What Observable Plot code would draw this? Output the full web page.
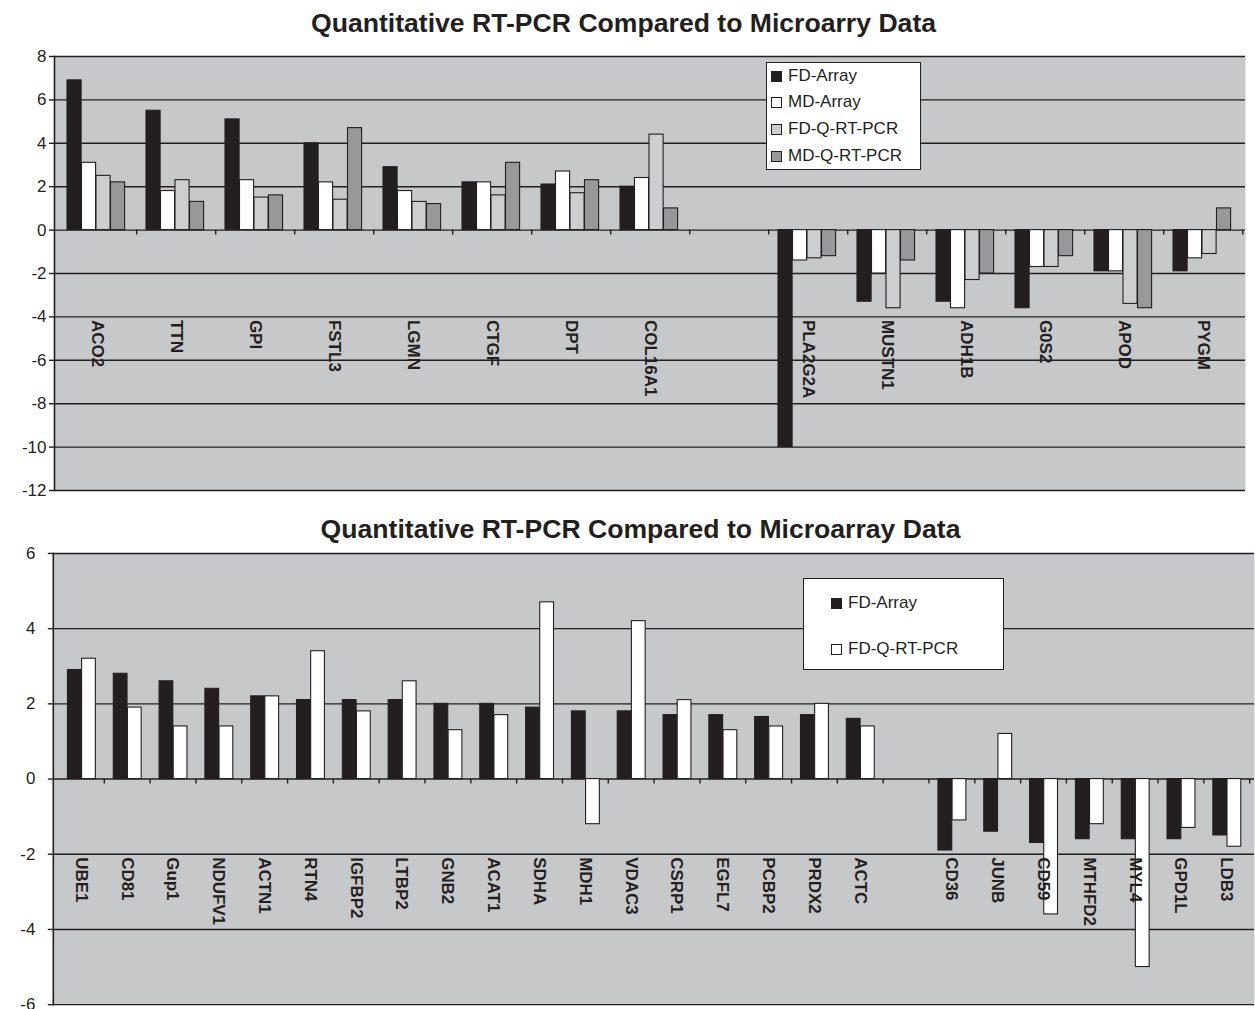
<!DOCTYPE html>
<html><head><meta charset="utf-8">
<script src="https://cdn.jsdelivr.net/npm/d3@7"></script>
<script src="https://cdn.jsdelivr.net/npm/@observablehq/plot@0.6"></script>
<style>
body{margin:0;width:1255px;height:1009px;overflow:hidden;position:relative;background:#fff;font-family:"Liberation Sans",Arial,sans-serif;color:#231f20;}
.title{position:absolute;width:1255px;text-align:center;font-weight:bold;font-size:26.6px;line-height:30px;white-space:nowrap;}
.chart{position:absolute;left:0;}
.legend{position:absolute;background:#fff;border:1.5px solid #231f20;box-sizing:border-box;font-size:17px;}
.item{position:absolute;display:flex;align-items:center;white-space:nowrap;line-height:20px;height:20px;}
.sw{width:11px;height:11px;border:1px solid #231f20;box-sizing:border-box;margin-right:6px;}
</style></head><body>
<div class="title" id="t1" style="top:8px;left:-4px"></div>
<div class="chart" id="c1" style="top:46px"></div>
<div class="title" id="t2" style="top:514px;left:13px"></div>
<div class="chart" id="c2" style="top:543px"></div>
<div class="legend" id="l1" style="left:766px;top:62px;width:155px;height:108px"></div>
<div class="legend" id="l2" style="left:803px;top:578px;width:201px;height:92px"></div>
<script>
// ---------- Data ----------
const titleTop = "Quantitative RT-PCR Compared to Microarry Data";
const titleBottom = "Quantitative RT-PCR Compared to Microarray Data";

const seriesTop = ["FD-Array", "MD-Array", "FD-Q-RT-PCR", "MD-Q-RT-PCR"];
const genesTop = ["ACO2","TTN","GPI","FSTL3","LGMN","CTGF","DPT","COL16A1"," ","PLA2G2A","MUSTN1","ADH1B","G0S2","APOD","PYGM"];
const fdArrayTop = [6.9, 5.5, 5.1, 4.0, 2.9, 2.2, 2.1, 2.0, null, -10.0, -3.3, -3.3, -3.6, -1.9, -1.9];
const mdArrayTop = [3.1, 1.8, 2.3, 2.2, 1.8, 2.2, 2.7, 2.4, null, -1.4, -2.0, -3.6, -1.7, -1.9, -1.3];
const fdQrtTop   = [2.5, 2.3, 1.5, 1.4, 1.3, 1.6, 1.7, 4.4, null, -1.3, -3.6, -2.3, -1.7, -3.4, -1.1];
const mdQrtTop   = [2.2, 1.3, 1.6, 4.7, 1.2, 3.1, 2.3, 1.0, null, -1.2, -1.4, -2.0, -1.2, -3.6, 1.0];
const yTicksTop = [8, 6, 4, 2, 0, -2, -4, -6, -8, -10, -12];

const seriesBottom = ["FD-Array", "FD-Q-RT-PCR"];
const genesBottom = ["UBE1","CD81","Gup1","NDUFV1","ACTN1","RTN4","IGFBP2","LTBP2","GNB2","ACAT1","SDHA","MDH1","VDAC3","CSRP1","EGFL7","PCBP2","PRDX2","ACTC"," ","CD36","JUNB","CD59","MTHFD2","MYL4","GPD1L","LDB3"];
const fdArrayBottom = [2.9, 2.8, 2.6, 2.4, 2.2, 2.1, 2.1, 2.1, 2.0, 2.0, 1.9, 1.8, 1.8, 1.7, 1.7, 1.65, 1.7, 1.6, null, -1.9, -1.4, -1.7, -1.6, -1.6, -1.6, -1.5];
const fdQrtBottom   = [3.2, 1.9, 1.4, 1.4, 2.2, 3.4, 1.8, 2.6, 1.3, 1.7, 4.7, -1.2, 4.2, 2.1, 1.3, 1.4, 2.0, 1.4, null, -1.1, 1.2, -3.6, -1.2, -5.0, -1.3, -1.8];
const yTicksBottom = [6, 4, 2, 0, -2, -4, -6];

// ---------- Style ----------
const ink = "#231f20";
const bg = "#c7c8ca";
const colorsTop = [ink, "#ffffff", "#cdcecf", "#97989a"];
const colorsBottom = [ink, "#ffffff"];

function chart(o) {
  const bw = (o.width - o.marginLeft - o.marginRight) / o.genes.length;
  const marks = [
    Plot.frame({fill: bg, stroke: null}),
    Plot.ruleY(o.yTicks, {stroke: ink, strokeWidth: 1.4})
  ];
  o.values.forEach((vals, i) => {
    const rows = o.genes.map((g, j) => ({gene: g, value: vals[j]})).filter(d => d.value != null);
    marks.push(Plot.barY(rows, {
      x: "gene", y: "value", fill: o.colors[i], stroke: ink, strokeWidth: 1.1,
      insetLeft: o.groupOffset + i * o.barWidth,
      insetRight: bw - o.groupOffset - (i + 1) * o.barWidth
    }));
  });
  marks.push(
    Plot.ruleX(o.genes, {x: d => d, y1: 0, y2: 0, dx: bw / 2, insetBottom: -5, stroke: ink, strokeWidth: 1.4}),
    Plot.text(o.genes.filter(g => g.trim()), {
      x: d => d, y: () => o.labelY, text: d => d, rotate: 90, textAnchor: "start",
      dy: 3, fontWeight: "bold", fontSize: o.labelSize, fill: ink
    }),
    Plot.frame({anchor: "left", stroke: ink, strokeWidth: 1.6}),
    Plot.axisY({ticks: o.yTicks, tickSize: 5, tickPadding: o.tickPadding, tickFormat: d => String(d),
      fontSize: 17, stroke: ink, fill: ink, strokeWidth: 1.4, label: null})
  );
  return Plot.plot({
    width: o.width, height: o.height,
    marginLeft: o.marginLeft, marginRight: o.marginRight, marginTop: o.marginTop, marginBottom: o.marginBottom,
    x: {type: "band", domain: o.genes, padding: 0, axis: null},
    y: {domain: o.yDomain, axis: null},
    style: {fontFamily: "'Liberation Sans', Arial, sans-serif", background: "transparent", overflow: "visible"},
    marks
  });
}

document.getElementById("t1").textContent = titleTop;
document.getElementById("t2").textContent = titleBottom;

document.getElementById("c1").appendChild(chart({
  genes: genesTop, values: [fdArrayTop, mdArrayTop, fdQrtTop, mdQrtTop], colors: colorsTop,
  yDomain: [-12, 8], yTicks: yTicksTop, labelY: -4, labelSize: 17,
  width: 1255, height: 454, marginLeft: 54, marginRight: 10, marginTop: 10, marginBottom: 10,
  barWidth: 14.5, groupOffset: 10, tickPadding: 3
}));

document.getElementById("c2").appendChild(chart({
  genes: genesBottom, values: [fdArrayBottom, fdQrtBottom], colors: colorsBottom,
  yDomain: [-6, 6], yTicks: yTicksBottom, labelY: -2, labelSize: 17,
  width: 1260, height: 466, marginLeft: 53, marginRight: 1, marginTop: 10, marginBottom: 3,
  barWidth: 14.2, groupOffset: 9.7, tickPadding: 13
}));

function legend(id, series, colors, tops, swLeft) {
  const el = document.getElementById(id);
  series.forEach((s, i) => {
    const it = document.createElement("div");
    it.className = "item";
    it.style.top = tops[i] + "px";
    it.style.left = swLeft + "px";
    const sw = document.createElement("div");
    sw.className = "sw";
    sw.style.background = colors[i];
    const tx = document.createElement("span");
    tx.textContent = s;
    it.appendChild(sw); it.appendChild(tx);
    el.appendChild(it);
  });
}
legend("l1", seriesTop, colorsTop, [3, 29, 56, 83], 4);
legend("l2", seriesBottom, colorsBottom, [14, 60], 27);
</script>
</body></html>
